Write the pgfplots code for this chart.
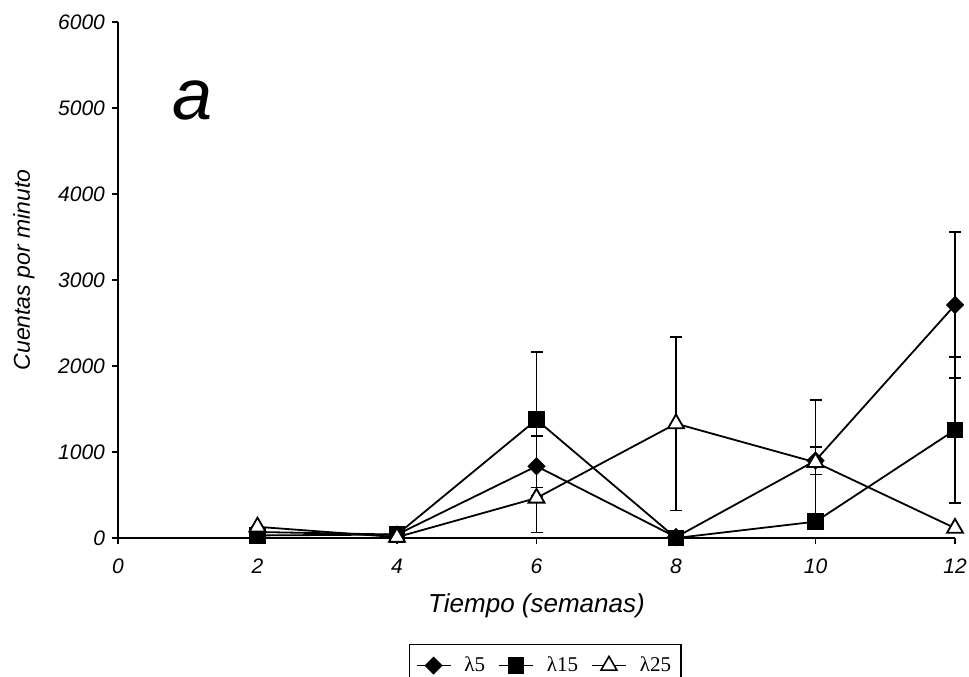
\documentclass[border=0pt]{standalone}
\usepackage{fontspec}
\setmainfont{Liberation Sans}
\setsansfont{Liberation Sans}
\newfontfamily\serifleg{Liberation Serif}
\usepackage{pgfplots}
\pgfplotsset{compat=1.18}

% x, y, error (cuentas por minuto)
\pgfplotstableread{
x y e
2 70 0
4 40 0
6 835 350
8 10 0
10 900 160
12 2710 850
}\lamA
\pgfplotstableread{
x y e
2 30 0
4 40 0
6 1375 790
8 0 0
10 190 0
12 1256 850
}\lamB
\pgfplotstableread{
x y e
2 130 0
4 10 0
6 465 400
8 1330 1010
10 880 725
12 115 0
}\lamC

\begin{document}
\begin{tikzpicture}
\useasboundingbox (-59pt,-69pt) rectangle (425.5pt,269pt);
\begin{axis}[
    at={(0,0)}, anchor=south west,
    scale only axis,
    width=418.5pt, height=258pt,
    xmin=0, xmax=12, ymin=0, ymax=6000,
    xtick={0,2,...,12}, ytick={0,1000,...,6000},
    axis x line*=bottom, axis y line*=left,
    axis line style={line width=0.9pt, -},
    tick align=outside, major tick length=3pt,
    tick style={black, line width=0.7pt},
    /pgf/number format/assume math mode=true,
    /pgf/number format/1000 sep={},
    ticklabel style={font=\fontsize{10.5}{12}\selectfont\itshape},
    xticklabel style={yshift=-4pt},
    xlabel={Tiempo (semanas)},
    ylabel={Cuentas por minuto},
    xlabel style={font=\fontsize{13}{15}\selectfont\itshape, at={(rel axis cs:0.5,0)}, anchor=center, yshift=-34pt},
    ylabel style={font=\fontsize{11.5}{14}\selectfont\itshape, at={([xshift=-47pt,yshift=5pt]rel axis cs:0,0.5)}, anchor=center, rotate=0},
    every axis plot/.append style={black, line width=0.9pt},
    error bars/error bar style={black, line width=0.8pt},
    error bars/error mark options={black, rotate=90, mark size=3pt, line width=0.8pt},
    legend columns=3,
    legend style={at={(rel axis cs:0.3477,-0.2054)}, anchor=north west,
        draw=black, line width=0.7pt, font=\serifleg\fontsize{10.5}{12}\selectfont,
        inner xsep=3pt, inner ysep=4pt, column sep=4.5pt},
    legend image post style={line width=0.8pt},
    clip=false,
]
\addplot[black, mark=square*, mark size=2.8pt, mark options={fill=black, solid, rotate=45},
    error bars/.cd, y dir=both, y explicit] table[x=x, y=y, y error=e] {\lamA};
\addplot[black, mark=square*, mark size=3.7pt, mark options={fill=black, solid},
    error bars/.cd, y dir=both, y explicit] table[x=x, y=y, y error=e] {\lamB};
\addplot[black, mark=triangle*, mark size=4.6pt, mark options={fill=white, solid},
    error bars/.cd, y dir=both, y explicit] table[x=x, y=y, y error=e] {\lamC};
\legend{λ5, λ15, λ25}
\node at (axis cs:1.075,5093) {\fontsize{36}{36}\selectfont\itshape a};
\end{axis}
\end{tikzpicture}
\end{document}
